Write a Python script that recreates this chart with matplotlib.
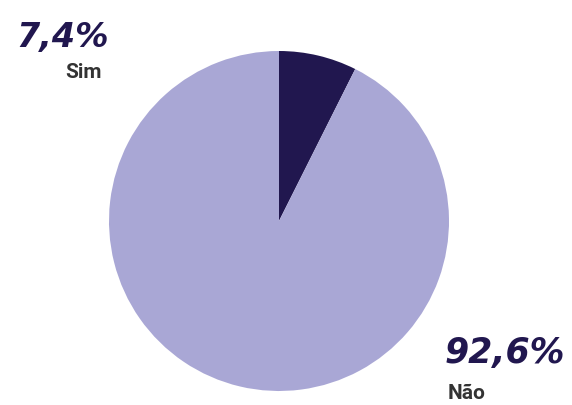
import matplotlib
matplotlib.use("Agg")
import matplotlib.pyplot as plt

labels = ["Sim", "Não"]
values = [7.4, 92.6]
pct_text = ["7,4%", "92,6%"]
colors = ["#21174f", "#a9a7d5"]

W, H = 572, 406
fig = plt.figure(figsize=(W / 100, H / 100), dpi=100)
fig.patch.set_facecolor("white")

# pie centre ~ (279, 222) px, radius ~170 px
cx, cy, r = 279, 222, 170
ax = fig.add_axes([(cx - r) / W, 1 - (cy + r) / H, 2 * r / W, 2 * r / H])
ax.pie(values, colors=colors, startangle=90, counterclock=False,
       wedgeprops=dict(linewidth=0))
ax.set_xlim(-1, 1)
ax.set_ylim(-1, 1)
ax.set_aspect("equal")
ax.axis("off")

def px(x, y):
    return x / W, 1 - y / H

# percentage labels
fig.text(*px(63, 38), pct_text[0], ha="center", va="center", fontsize=24,
         fontweight="heavy", style="italic", color=colors[0],
         family="DejaVu Sans")
fig.text(*px(83, 72), labels[0], ha="center", va="center", fontsize=15,
         fontweight="bold", color="#333333", family="Roboto")
fig.text(*px(505, 353), pct_text[1], ha="center", va="center", fontsize=25,
         fontweight="heavy", style="italic", color=colors[0],
         family="DejaVu Sans")
fig.text(*px(467, 394), labels[1], ha="center", va="center", fontsize=15,
         fontweight="bold", color="#333333", family="Roboto")

fig.savefig("out.png", dpi=100)
